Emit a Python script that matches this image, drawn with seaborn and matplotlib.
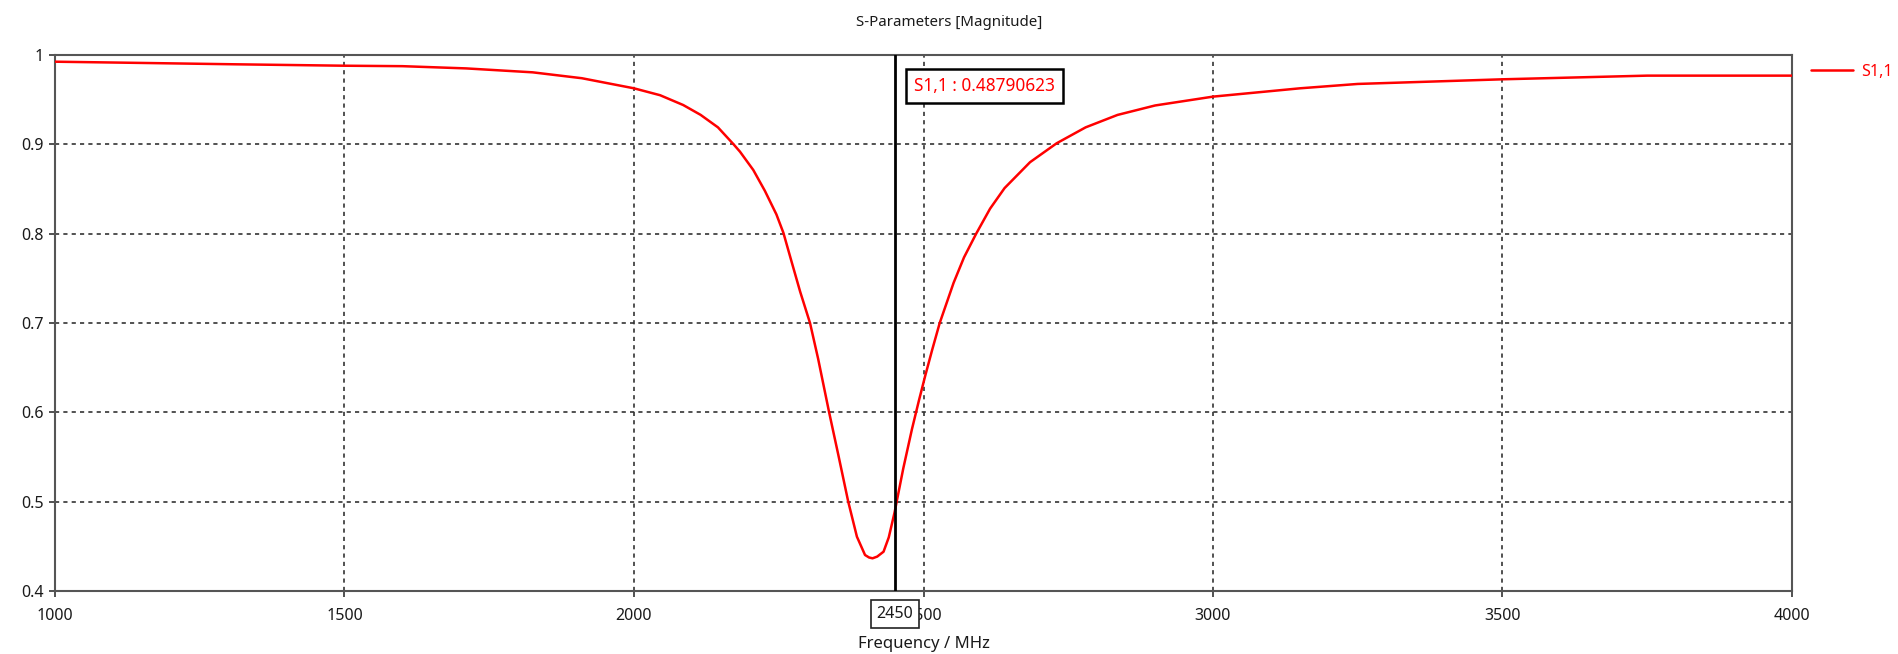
import matplotlib
matplotlib.use("Agg")
import matplotlib.pyplot as plt
import seaborn as sns
import pandas as pd

# ---- data ----
freq_mhz = [1000, 1120, 1310, 1500, 1600, 1710, 1825, 1910, 2000, 2045, 2085, 2115,
            2145, 2172, 2183, 2206, 2226, 2246, 2258, 2272, 2287, 2304, 2318, 2337,
            2353, 2370, 2385, 2399, 2406, 2412, 2420, 2431, 2440, 2450, 2465, 2480,
            2492, 2503, 2515, 2528, 2552, 2570, 2591, 2615, 2640, 2684, 2730, 2780, 2835,
            2900, 3000, 3150, 3250, 3500, 3750, 4000]
s11_mag = [0.9925, 0.9914, 0.9896, 0.9880, 0.9875, 0.9850, 0.9806, 0.9740, 0.9627, 0.9550,
           0.9440, 0.9330, 0.9190, 0.9000, 0.8918, 0.8713, 0.8480, 0.8215, 0.8010, 0.7690,
           0.7350, 0.7000, 0.6600, 0.6000, 0.5520, 0.5000, 0.4608, 0.4403, 0.4375, 0.4366,
           0.4385, 0.4440, 0.4600, 0.4879, 0.5370, 0.5810, 0.6130, 0.6410, 0.6700, 0.7000,
           0.7450, 0.7735, 0.8000, 0.8280, 0.8510, 0.8800, 0.9012, 0.9190, 0.9329, 0.9435,
           0.9534, 0.9627, 0.9676, 0.9728, 0.9769, 0.9769]
x_ticks = [1000, 1500, 2000, 2500, 3000, 3500, 4000]
y_ticks = [0.4, 0.5, 0.6, 0.7, 0.8, 0.9, 1.0]
y_tick_labels = ["0.4", "0.5", "0.6", "0.7", "0.8", "0.9", "1"]
series_name = "S1,1"
marker_freq = 2450
marker_value = 0.48790623
title = "S-Parameters [Magnitude]"
x_label = "Frequency / MHz"

df = pd.DataFrame({"Frequency": freq_mhz, "Magnitude": s11_mag})

sns.set_style("white")
plt.rcParams["font.family"] = ["Noto Sans", "DejaVu Sans"]

W, H = 1898, 654
fig = plt.figure(figsize=(W / 100, H / 100), dpi=100)
ax = fig.add_axes([55 / W, 1 - 591 / H, (1792 - 55) / W, (591 - 55) / H])

sns.lineplot(data=df, x="Frequency", y="Magnitude", color="#ff0000", linewidth=1.8,
             ax=ax, label=series_name, zorder=3)

ax.set_xlim(1000, 4000)
ax.set_ylim(0.4, 1.0)
ax.set_xticks(x_ticks)
ax.set_xticklabels([str(t) for t in x_ticks])
ax.set_yticks(y_ticks)
ax.set_yticklabels(y_tick_labels)

fs = 11.5
tc = "#1a1a1a"
ax.tick_params(axis="both", direction="out", length=4, width=1.2, color="#333333",
               labelsize=fs, labelcolor=tc, bottom=True, left=True)
ax.tick_params(axis="y", pad=4)
ax.tick_params(axis="x", pad=8)

for sp in ax.spines.values():
    sp.set_color("#555555")
    sp.set_linewidth(1.5)

ax.grid(True, color="#333333", linestyle=(0, (2.5, 2.5)), linewidth=1.2)
ax.set_axisbelow(True)

ax.set_xlabel(x_label, fontsize=12, color=tc, labelpad=9)
ax.set_ylabel("")

# title centered on the figure
fig.text(0.5, 1 - 22 / H, title, ha="center", va="center", fontsize=10.8, color=tc)

# marker line and its readouts
ax.axvline(marker_freq, color="black", linewidth=2, zorder=4)
ax.annotate(f"{series_name} : {marker_value:.8f}", xy=(marker_freq, 0.9653),
            xytext=(14, 0), textcoords="offset points", ha="left", va="center",
            fontsize=12.4, color="#ff0000", zorder=6,
            bbox=dict(boxstyle="square,pad=0.45", fc="white", ec="black", lw=1.8))
ax.annotate(str(marker_freq), xy=(marker_freq, 0.4), xycoords="data",
            xytext=(0, -16.5), textcoords="offset points", ha="center", va="center",
            fontsize=fs, color=tc, zorder=6, annotation_clip=False,
            bbox=dict(boxstyle="square,pad=0.35", fc="white", ec="#222222", lw=1.2))

# legend outside on the right
leg = ax.legend(loc="center left", bbox_to_anchor=(1811 / W, 1 - 72 / H),
                bbox_transform=fig.transFigure, frameon=False, fontsize=fs,
                handlelength=2.6, handletextpad=0.55, borderpad=0, borderaxespad=0)
for t in leg.get_texts():
    t.set_color("#ff0000")

fig.savefig("out.png", dpi=100, facecolor="white")
